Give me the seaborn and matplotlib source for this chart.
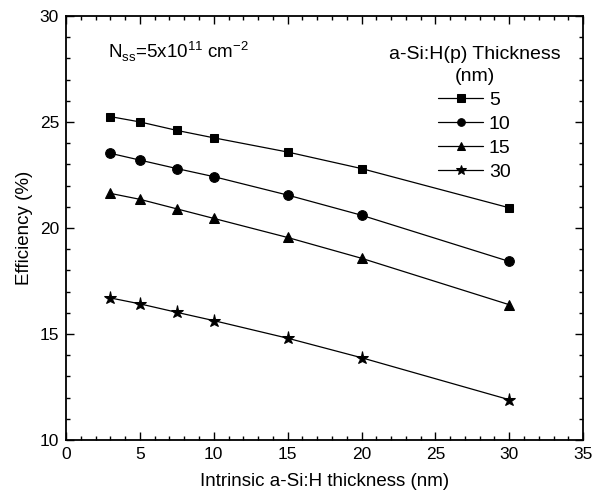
import numpy as np
import pandas as pd
import matplotlib
matplotlib.use('Agg')
import matplotlib.pyplot as plt
import seaborn as sns
from matplotlib.ticker import MultipleLocator

# intrinsic layer thickness (nm)
x_i = [3, 5, 7.5, 10, 15, 20, 30]
# efficiency (%) for each p-layer thickness
eff_5 = [25.25, 25.0, 24.6, 24.25, 23.58, 22.8, 20.95]
eff_10 = [23.52, 23.2, 22.8, 22.42, 21.55, 20.6, 18.42]
eff_15 = [21.63, 21.35, 20.9, 20.45, 19.55, 18.57, 16.38]
eff_30 = [16.7, 16.42, 16.02, 15.63, 14.8, 13.88, 11.9]
p_labels = ['5', '10', '15', '30']

rows = []
for lab, ys in zip(p_labels, [eff_5, eff_10, eff_15, eff_30]):
    for xv, yv in zip(x_i, ys):
        rows.append((xv, yv, lab))
df = pd.DataFrame(rows, columns=['x', 'eff', 'p'])

sns.set_style('ticks', {'axes.edgecolor': 'black', 'text.color': 'black',
                        'axes.labelcolor': 'black', 'xtick.color': 'black',
                        'ytick.color': 'black'})
plt.rcParams['font.family'] = ['Liberation Sans', 'DejaVu Sans']
plt.rcParams['mathtext.fontset'] = 'custom'
plt.rcParams['mathtext.rm'] = 'Liberation Sans'

fig = plt.figure(figsize=(5.92, 4.92), dpi=100)
ax = fig.add_axes([0.1115, 0.1057, 0.8735, 0.862])

sns.lineplot(data=df, x='x', y='eff', style='p', markers=['s', 'o', '^', '*'],
             dashes=False, color='black', linewidth=0.9, markersize=7,
             markeredgecolor='black', ax=ax, legend=True)
sizes = {'s': 6.3, 'o': 7, '^': 7.5, '*': 9.5}
for ln in ax.lines:
    if ln.get_marker() in sizes:
        ln.set_markersize(sizes[ln.get_marker()])

ax.set_xlim(0, 35)
ax.set_ylim(10, 30)
ax.xaxis.set_major_locator(MultipleLocator(5))
ax.xaxis.set_minor_locator(MultipleLocator(1))
ax.yaxis.set_major_locator(MultipleLocator(5))
ax.yaxis.set_minor_locator(MultipleLocator(1))
ax.tick_params(which='both', direction='in', top=True, right=True, labelsize=12.5, width=1.0)
ax.tick_params(which='major', length=6, pad=5)
ax.tick_params(which='minor', length=3)
for s in ax.spines.values():
    s.set_linewidth(1.3)

ax.set_xlabel('Intrinsic a-Si:H thickness (nm)', fontsize=13.5, labelpad=8)
ax.set_ylabel('Efficiency (%)', fontsize=13.5, labelpad=5)

ax.text(2.84, 28.0, r'N$_{\mathregular{ss}}$=5x10$^{\mathregular{11}}$ cm$^{\mathregular{-2}}$',
        fontsize=13.5, va='baseline')

h, l = ax.get_legend_handles_labels()
for hh in h:
    hh.set_markersize(5.5 if hh.get_marker() != '*' else 7.5)
leg = ax.legend(h, l, title='a-Si:H(p) Thickness\n(nm)', frameon=False, loc='upper center',
                bbox_to_anchor=(0.79, 0.93), fontsize=14, title_fontsize=14,
                handlelength=2.3, labelspacing=0.32, handletextpad=0.3,
                borderpad=0, borderaxespad=0)
leg._legend_box.align = 'center'
leg.get_title().set_multialignment('center')
leg.get_title().set_linespacing(1.45)

fig.savefig('out.png', dpi=100)
